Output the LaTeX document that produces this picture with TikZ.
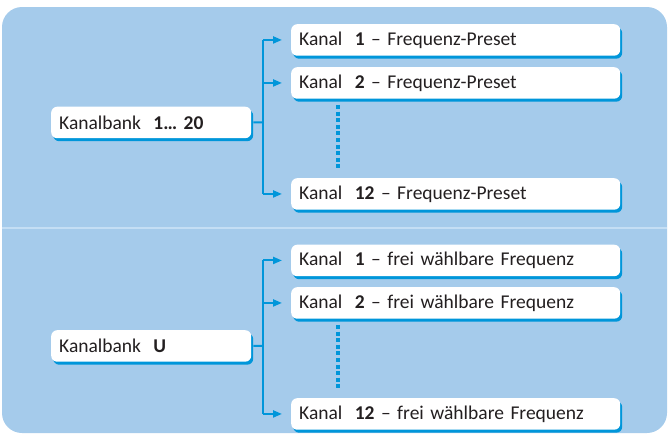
\documentclass[tikz,border=0pt]{standalone}
\usepackage{fontspec}
\setmainfont{Carlito}
\usetikzlibrary{shadows,arrows.meta}
\definecolor{bgblue}{RGB}{165,203,235}
\definecolor{lineblue}{RGB}{0,150,218}
\definecolor{sepblue}{RGB}{196,222,244}
\definecolor{txt}{RGB}{35,31,32}
\tikzset{
  box/.style={draw=none, fill=white, rounded corners=6pt, anchor=north west,
    inner xsep=8pt, inner ysep=0pt, minimum height=31.5pt, align=left,
    text=txt, font=\fontsize{19.5}{22}\selectfont,
    drop shadow={shadow xshift=2pt, shadow yshift=-3pt, fill=lineblue, opacity=1}},
  chbox/.style={box, text width=313pt},
  bankbox/.style={box, text width=184pt},
  conn/.style={draw=lineblue, line width=2pt},
  arr/.style={conn, -{Triangle[length=9pt,width=7pt]}},
  dots/.style={draw=lineblue, line width=4pt, dash pattern=on 4pt off 2.6pt},
}
\newcommand{\kb}[1]{\hspace{0.3em}\textbf{#1}}
\begin{document}
\begin{tikzpicture}[x=1pt,y=-1pt]
\useasboundingbox (0,0) rectangle (669,434);
\fill[bgblue, rounded corners=20pt] (2,7) rectangle (667,433);
\draw[sepblue, line width=2pt] (2,228) -- (667,228);

% upper group
\node[bankbox] (kb1) at (51,106.5) {Kanalbank \kb{1… 20}};
\node[chbox] (k1) at (291,24) {Kanal \kb{1} – Frequenz-Preset};
\node[chbox] (k2) at (291,67) {Kanal \kb{2} – Frequenz-Preset};
\node[chbox] (k12) at (291,178) {Kanal \kb{12} – Frequenz-Preset};
\coordinate (b1) at (263,122.5);
\draw[conn] ([xshift=2pt]kb1.east) -- (b1);
\draw[conn] (b1 |- k1.west) -- (b1 |- k12.west);
\draw[arr] (b1 |- k1.west) -- ([xshift=-9pt]k1.west);
\draw[arr] (b1 |- k2.west) -- ([xshift=-9pt]k2.west);
\draw[arr] (b1 |- k12.west) -- ([xshift=-9pt]k12.west);
\draw[dots] ([xshift=47pt,yshift=-6pt]k2.south west) -- ([xshift=47pt,yshift=10pt]k12.north west);

% lower group
\node[bankbox] (kbu) at (51,330) {Kanalbank \kb{U}};
\node[chbox] (f1) at (291,244.5) {Kanal \kb{1} – frei wählbare Frequenz};
\node[chbox] (f2) at (291,287) {Kanal \kb{2} – frei wählbare Frequenz};
\node[chbox] (f12) at (291,398) {Kanal \kb{12} – frei wählbare Frequenz};
\coordinate (b2) at (263,346);
\draw[conn] ([xshift=2pt]kbu.east) -- (b2);
\draw[conn] (b2 |- f1.west) -- (b2 |- f12.west);
\draw[arr] (b2 |- f1.west) -- ([xshift=-9pt]f1.west);
\draw[arr] (b2 |- f2.west) -- ([xshift=-9pt]f2.west);
\draw[arr] (b2 |- f12.west) -- ([xshift=-9pt]f12.west);
\draw[dots] ([xshift=47pt,yshift=-6pt]f2.south west) -- ([xshift=47pt,yshift=10pt]f12.north west);
\end{tikzpicture}
\end{document}
